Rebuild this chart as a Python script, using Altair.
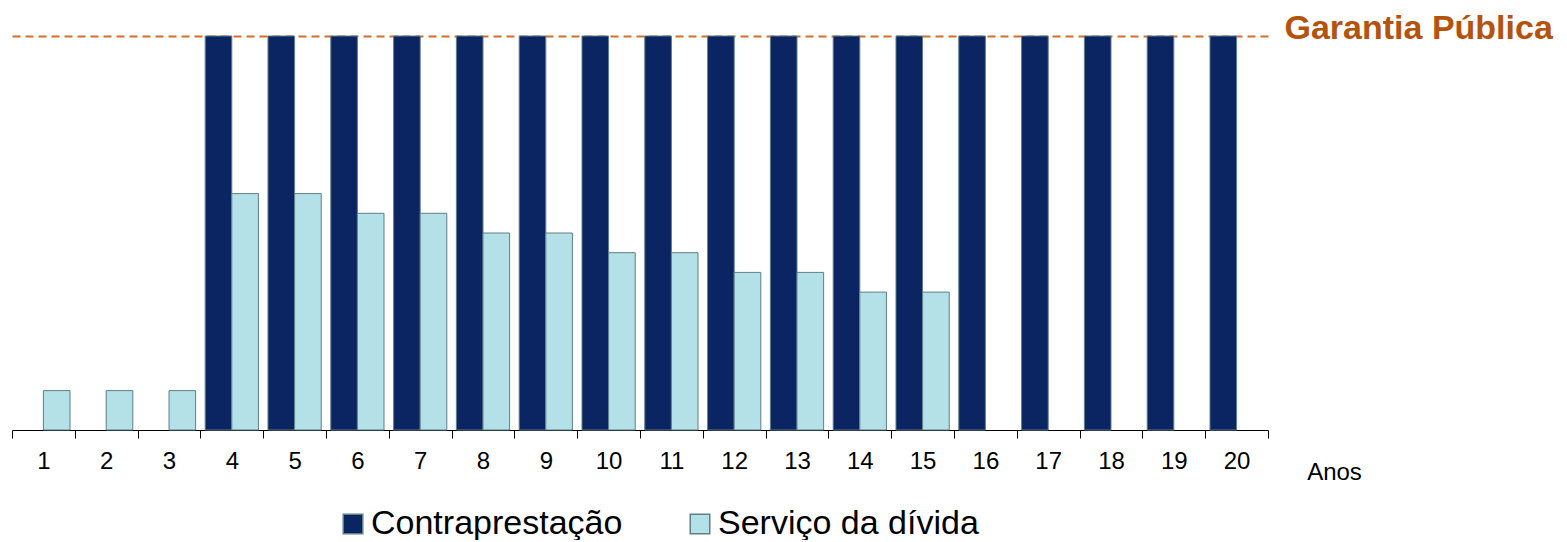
import altair as alt
import pandas as pd

years = list(range(1, 21))
series_names = ["Contraprestação", "Serviço da dívida"]
contraprestacao = [None, None, None] + [100] * 17
servico_divida = [10, 10, 10, 60, 60, 55, 55, 50, 50, 45, 45, 40, 40, 35, 35, None, None, None, None, None]
garantia_level = 100
garantia_label = "Garantia Pública"
x_title = "Anos"

rows = []
for y, c, s in zip(years, contraprestacao, servico_divida):
    if c is not None:
        rows.append({"ano": y, "serie": series_names[0], "valor": c})
    if s is not None:
        rows.append({"ano": y, "serie": series_names[1], "valor": s})
df = pd.DataFrame(rows)

NAVY = "#0B2462"
LIGHT = "#B4E1E7"
ORANGE = "#D0702C"
TEXT_ORANGE = "#B5530C"

x_enc = alt.X(
    "ano:O",
    scale=alt.Scale(domain=years, paddingInner=0, paddingOuter=0),
    axis=alt.Axis(
        title=x_title,
        labelAngle=0,
        labelFontSize=24,
        labelFont="Liberation Sans",
        labelColor="#000000",
        labelPadding=11,
        tickBand="extent",
        tickSize=8,
        tickColor="#000000",
        domainColor="#000000",
        titleFontSize=24,
        titleFont="Liberation Sans",
        titleFontWeight="normal",
        titleColor="#000000",
        titleX=1322,
        titleY=42,
        titleAlign="center",
        titleBaseline="middle",
    ),
)

y_enc = alt.Y(
    "valor:Q",
    scale=alt.Scale(domain=[0, 100], nice=False),
    axis=alt.Axis(
        orient="right",
        title=None,
        values=[garantia_level],
        labelExpr="'" + garantia_label + "'",
        domain=False,
        ticks=False,
        grid=True,
        gridColor=ORANGE,
        gridDash=[8, 5],
        gridWidth=2,
        gridOpacity=1,
        labelFont="Liberation Sans",
        labelFontSize=34,
        labelFontWeight="bold",
        labelColor=TEXT_ORANGE,
        labelBaseline="alphabetic",
        labelAlign="left",
        labelPadding=16,
        labelOffset=2,
        labelLimit=500,
        labelFlush=False,
        labelOverlap=False,
        labelBound=False,
    ),
)

bars = alt.Chart(df).mark_bar(strokeWidth=1, stroke="#5E7F88").encode(
    x=x_enc,
    xOffset=alt.XOffset(
        "serie:N",
        scale=alt.Scale(domain=series_names, paddingInner=0, paddingOuter=0.18),
    ),
    y=y_enc,
    color=alt.Color(
        "serie:N",
        scale=alt.Scale(domain=series_names, range=[NAVY, LIGHT]),
        legend=alt.Legend(
            title=None,
            orient="none",
            legendX=324,
            legendY=471,
            direction="horizontal",
            symbolType="square",
            symbolSize=380,
            labelFontSize=34,
            labelFont="Liberation Sans",
            labelColor="#000000",
            labelOffset=1,
            labelLimit=600,
            columnPadding=60,
        ),
    ),
)

chart = bars.properties(
    width=1256,
    height=394,
    autosize=alt.AutoSizeParams(type="none"),
    padding={"left": 4, "top": 28, "right": 291, "bottom": 110},
    background="white",
).configure_view(stroke=None)

chart.save("out.html", embed_options={"renderer": "svg", "actions": False})
